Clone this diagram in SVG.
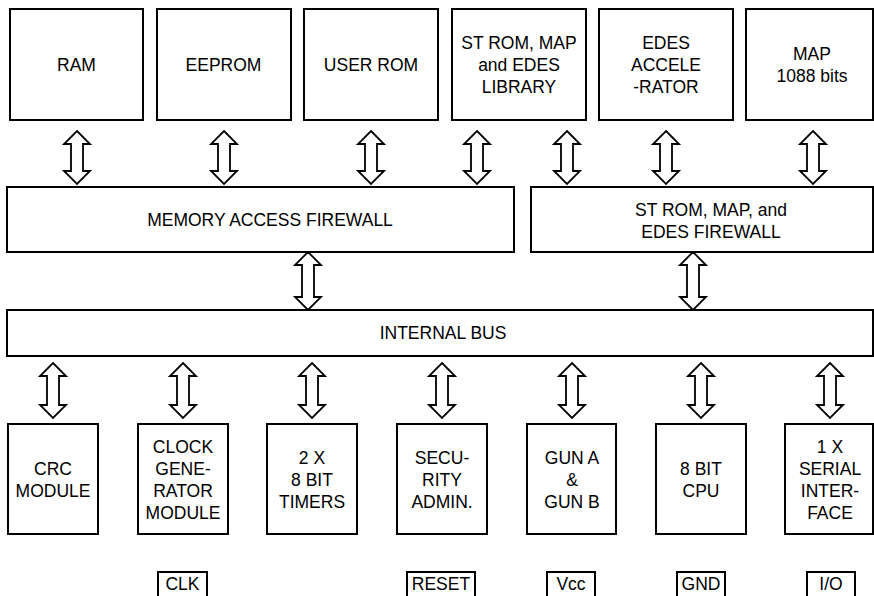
<svg xmlns="http://www.w3.org/2000/svg" xmlns:xlink="http://www.w3.org/1999/xlink" width="874" height="596" viewBox="0 0 874 596">
<style>
  .box { fill: #fff; stroke: #000; stroke-width: 2; }
  .arr { fill: #fff; stroke: #000; stroke-width: 1.8; stroke-linejoin: miter; }
  text { font-family: "Liberation Sans", Arial, sans-serif; font-size: 17.5px; fill: #000; text-anchor: middle; }
</style>
<defs>
  <path id="a53" d="M0,0 L13,13 L6,13 L6,40 L13,40 L0,53 L-13,40 L-6,40 L-6,13 L-13,13 Z"/>
  <path id="a58" d="M0,0 L13,13 L6,13 L6,45 L13,45 L0,58 L-13,45 L-6,45 L-6,13 L-13,13 Z"/>
  <path id="a55" d="M0,0 L13,13 L6,13 L6,42 L13,42 L0,55 L-13,42 L-6,42 L-6,13 L-13,13 Z"/>
</defs>
<rect width="874" height="596" fill="#fff"/>

<g id="connectors" class="arr">
  <use xlink:href="#a53" x="77" y="131"/>
  <use xlink:href="#a53" x="224" y="131"/>
  <use xlink:href="#a53" x="371" y="131"/>
  <use xlink:href="#a53" x="477" y="131"/>
  <use xlink:href="#a53" x="567" y="131"/>
  <use xlink:href="#a53" x="666" y="131"/>
  <use xlink:href="#a53" x="813" y="131"/>
  <use xlink:href="#a58" x="308" y="252"/>
  <use xlink:href="#a58" x="693" y="252"/>
  <use xlink:href="#a55" x="53" y="363"/>
  <use xlink:href="#a55" x="183" y="363"/>
  <use xlink:href="#a55" x="312" y="363"/>
  <use xlink:href="#a55" x="442" y="363"/>
  <use xlink:href="#a55" x="572" y="363"/>
  <use xlink:href="#a55" x="701" y="363"/>
  <use xlink:href="#a55" x="830" y="363"/>
</g>

<g id="ram"><rect class="box" x="10" y="9" width="133" height="111"/><text x="76.5" y="71">RAM</text></g>
<g id="eeprom"><rect class="box" x="157" y="9" width="134" height="111"/><text x="223.5" y="71">EEPROM</text></g>
<g id="userrom"><rect class="box" x="304" y="9" width="134" height="111"/><text x="371" y="71">USER ROM</text></g>
<g id="strom"><rect class="box" x="452" y="9" width="134" height="111"/>
  <text x="519" y="49">ST ROM, MAP</text><text x="519" y="71">and EDES</text><text x="519" y="93">LIBRARY</text></g>
<g id="edes"><rect class="box" x="599" y="9" width="134" height="111"/>
  <text x="666" y="49">EDES</text><text x="666" y="71">ACCELE</text><text x="666" y="93">-RATOR</text></g>
<g id="map"><rect class="box" x="746" y="9" width="127" height="111"/>
  <text x="812" y="60">MAP</text><text x="812" y="82">1088 bits</text></g>

<g id="memfirewall"><rect class="box" x="7" y="187" width="507" height="65"/><text x="270" y="226">MEMORY ACCESS FIREWALL</text></g>
<g id="stfirewall"><rect class="box" x="531" y="187" width="342" height="65"/>
  <text x="711" y="216">ST ROM, MAP, and</text><text x="711" y="238">EDES FIREWALL</text></g>

<g id="bus"><rect class="box" x="7" y="310" width="866" height="46"/><text x="443" y="339">INTERNAL BUS</text></g>

<g id="crc"><rect class="box" x="8" y="424" width="90" height="110"/>
  <text x="53" y="475">CRC</text><text x="53" y="497">MODULE</text></g>
<g id="clock"><rect class="box" x="138" y="424" width="90" height="110"/>
  <text x="183" y="453">CLOCK</text><text x="183" y="475">GENE-</text><text x="183" y="497">RATOR</text><text x="183" y="519">MODULE</text></g>
<g id="timers"><rect class="box" x="267" y="424" width="90" height="110"/>
  <text x="312" y="464">2 X</text><text x="312" y="486">8 BIT</text><text x="312" y="508">TIMERS</text></g>
<g id="security"><rect class="box" x="397" y="424" width="90" height="110"/>
  <text x="442" y="464">SECU-</text><text x="442" y="486">RITY</text><text x="442" y="508">ADMIN.</text></g>
<g id="gun"><rect class="box" x="527" y="424" width="89" height="110"/>
  <text x="572" y="464">GUN A</text><text x="572" y="486">&amp;</text><text x="572" y="508">GUN B</text></g>
<g id="cpu"><rect class="box" x="656" y="424" width="90" height="110"/>
  <text x="701" y="475">8 BIT</text><text x="701" y="497">CPU</text></g>
<g id="serial"><rect class="box" x="785" y="424" width="88" height="110"/>
  <text x="830" y="453">1 X</text><text x="830" y="475">SERIAL</text><text x="830" y="497">INTER-</text><text x="830" y="519">FACE</text></g>

<g id="clk"><rect class="box" x="158" y="572" width="49" height="30"/><text x="182.5" y="590">CLK</text></g>
<g id="reset"><rect class="box" x="407" y="572" width="68" height="30"/><text x="441" y="590">RESET</text></g>
<g id="vcc"><rect class="box" x="547" y="572" width="48" height="30"/><text x="571" y="590">Vcc</text></g>
<g id="gnd"><rect class="box" x="677" y="572" width="48" height="30"/><text x="701" y="590">GND</text></g>
<g id="io"><rect class="box" x="807" y="572" width="48" height="30"/><text x="831" y="590">I/O</text></g>
</svg>
